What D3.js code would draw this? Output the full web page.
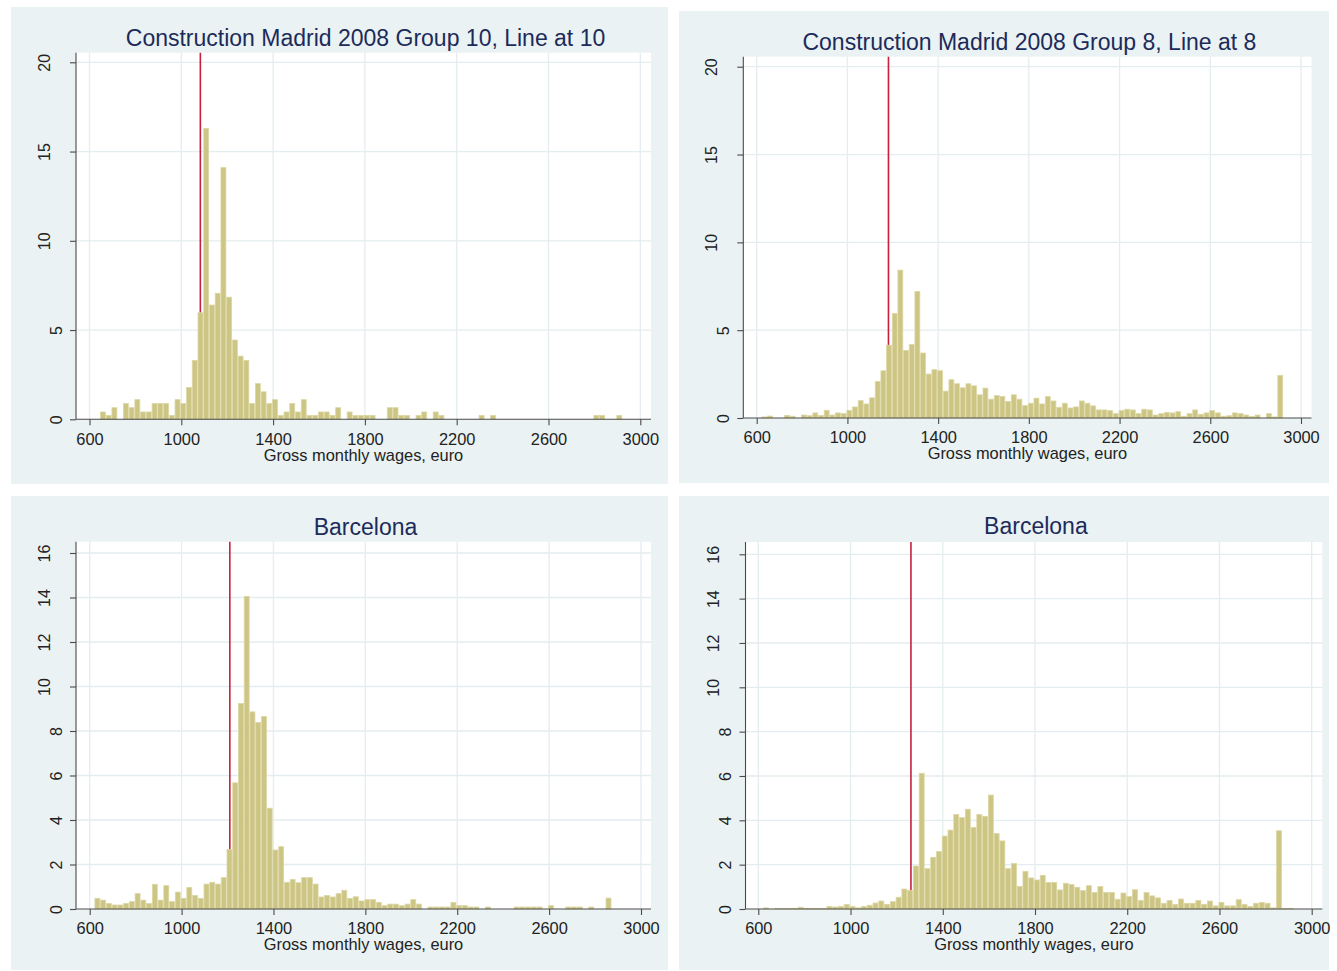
<!DOCTYPE html>
<html>
<head>
<meta charset="utf-8">
<script src="https://cdn.jsdelivr.net/npm/d3@7"></script>
<style>
  html, body { margin: 0; padding: 0; background: #ffffff; }
  svg { display: block; }
</style>
</head>
<body>
<div id="chart"></div>
<script>
// ---------------- DATA ----------------
const titles = [
  "Construction Madrid 2008 Group 10, Line at 10",
  "Construction Madrid 2008 Group 8, Line at 8",
  "Barcelona",
  "Barcelona"
];
const xAxisTitle = "Gross monthly wages, euro";
const xTicks = [600, 1000, 1400, 1800, 2200, 2600, 3000];
const yTicksTop = [0, 5, 10, 15, 20];
const yTicksBottom = [0, 2, 4, 6, 8, 10, 12, 14, 16];
const binStart = 621;   // euro, left edge of first bin
const binWidth = 25;    // euro
const lineAt = [1083, 1181, 1210, 1262]; // euro, red reference lines

// percent per bin
const madridGroup10 = [0, .41, .22, .65, 0, .88, .65, 1.1, .41, .41, .88, .88, .88, .22, 1.1, .88, 1.78, 3.3, 5.97, 16.3,
  6.4, 7.06, 14.1, 6.84, 4.44, 3.54, 3.3, .88, 2.0, 1.54, .88, 1.1, .22, .41, .88, .41, 1.1, .22, .22, .41,
  .41, .22, .65, 0, .41, .22, .22, .22, .22, 0, 0, .65, .65, .22, .22, 0, .22, .41, 0, .41,
  .22, 0, 0, 0, 0, 0, 0, .22, 0, .22, 0, 0, 0, 0, 0, 0, 0, 0, 0, 0,
  0, 0, 0, 0, 0, 0, 0, .22, .22, 0, 0, .22];
const madridGroup8 = [.06, .11, 0, 0, .15, .1, 0, .17, .13, .29, .15, .44, .17, .29, .25, .44, .63, .99, .8, 1.15,
  2.08, 2.69, 4.14, 5.95, 8.42, 3.85, 4.18, 7.2, 3.7, 2.5, 2.75, 2.69, 1.53, 2.18, 1.95, 1.72, 1.95, 1.83, 1.32, 1.7,
  1.07, 1.28, 1.22, .94, 1.32, 1.07, .71, .84, 1.13, .8, 1.22, .97, .61, .84, .57, .63, .97, .84, .69, .46,
  .46, .42, .25, .42, .5, .46, .25, .5, .46, .17, .25, .32, .29, .36, .1, .25, .46, .21, .29, .42,
  .29, .1, .13, .29, .25, .17, .08, .17, 0, .25, .06, 2.42];
const barcelonaGroup10 = [.48, .4, .25, .18, .18, .25, .33, .69, .4, .25, 1.11, .4, 1.05, .33, .76, .48, .97, .61, .48, 1.12,
  1.2, 1.12, 1.41, 2.68, 5.67, 9.24, 14.05, 8.86, 8.38, 8.65, 4.53, 2.65, 2.8, 1.2, 1.33, 1.18, 1.41, 1.41, 1.12, .54,
  .61, .54, .69, .84, .48, .55, .36, .42, .42, .3, .15, .22, .22, .15, .22, .42, .22, 0, .09, .09,
  .09, .09, .3, .15, .15, .09, .09, 0, .09, 0, 0, 0, 0, .09, .09, .09, .09, .09, 0, .15,
  0, 0, .09, .09, .09, 0, .09, 0, 0, .49];
const barcelonaGroup8 = [.05, 0, .03, .03, .03, .03, .08, .03, .03, .03, .03, .12, .09, .12, .21, .12, .05, .12, .17, .27,
  .36, .21, .33, .53, .9, .84, 1.94, 6.12, 1.82, 2.33, 2.59, 3.29, 3.56, 4.26, 4.12, 4.5, 3.68, 4.26, 4.18, 5.14,
  3.41, 3.07, 1.82, 2.05, 1.02, 1.7, 1.4, 1.31, 1.52, 1.2, 1.2, .86, 1.16, 1.11, .98, .83, 1.05, .75, 1.01, .75,
  .75, .44, .72, .56, .87, .38, .74, .59, .5, .26, .38, .21, .45, .26, .26, .39, .21, .36, .14, .3,
  .14, .14, .42, .21, .12, .26, .3, .26, .05, 3.53, .03, .03];

const seriesList = [madridGroup10, madridGroup8, barcelonaGroup10, barcelonaGroup8];
const yTickSets = [yTicksTop, yTicksTop, yTicksBottom, yTicksBottom];

// ---------------- LAYOUT ----------------
const W = 1337, H = 971;
const layouts = [
  { bg: [11, 7, 657, 477],  plot: [76, 651, 52.7, 419.3], xr: [89.5, 640.3], yTopPx: 62.3, titleY: 45.5 },
  { bg: [679, 11, 650, 472], plot: [743.3, 1311.5, 56.7, 418], xr: [756.7, 1301], yTopPx: 66.7, titleY: 49.5 },
  { bg: [11, 496, 657, 474], plot: [76, 651, 541.7, 909], xr: [89.7, 641], yTopPx: 553, titleY: 535 },
  { bg: [679, 496, 650, 474], plot: [745.5, 1322.3, 542, 909], xr: [758.3, 1311.7], yTopPx: 554.3, titleY: 534 }
];

const COLORS = {
  panelBg: "#eaf2f3",
  grid: "#e4edef",
  axis: "#4a4a4a",
  barFill: "#cdc584",
  barStroke: "#dcd7a4",
  refLine: "#c8203f",
  title: "#1c2b5a",
  text: "#222222"
};
const FONT = "'Liberation Sans', Arial, Helvetica, sans-serif";

const svg = d3.select("#chart").append("svg")
  .attr("width", W).attr("height", H)
  .attr("viewBox", `0 0 ${W} ${H}`);

svg.append("rect").attr("width", W).attr("height", H).attr("fill", "#ffffff");

layouts.forEach((L, i) => {
  const data = seriesList[i];
  const yTicks = yTickSets[i];
  const yMax = yTicks[yTicks.length - 1];
  const [pl, pr, pt, pb] = L.plot;

  const x = d3.scaleLinear().domain([xTicks[0], xTicks[xTicks.length - 1]]).range(L.xr);
  const y = d3.scaleLinear().domain([0, yMax]).range([pb, L.yTopPx]);

  const g = svg.append("g");

  // panel background
  g.append("rect")
    .attr("x", L.bg[0]).attr("y", L.bg[1]).attr("width", L.bg[2]).attr("height", L.bg[3])
    .attr("fill", COLORS.panelBg);

  // plot area
  g.append("rect")
    .attr("x", pl).attr("y", pt).attr("width", pr - pl).attr("height", pb - pt)
    .attr("fill", "#ffffff");

  // gridlines
  g.append("g").selectAll("line").data(xTicks).join("line")
    .attr("x1", d => x(d)).attr("x2", d => x(d))
    .attr("y1", pt).attr("y2", pb)
    .attr("stroke", COLORS.grid).attr("stroke-width", 1.3);
  g.append("g").selectAll("line").data(yTicks.filter(d => d > 0)).join("line")
    .attr("x1", pl).attr("x2", pr)
    .attr("y1", d => y(d)).attr("y2", d => y(d))
    .attr("stroke", COLORS.grid).attr("stroke-width", 1.3);

  // reference line (drawn beneath bars)
  g.append("line")
    .attr("x1", x(lineAt[i])).attr("x2", x(lineAt[i]))
    .attr("y1", pt).attr("y2", y(0))
    .attr("stroke", COLORS.refLine).attr("stroke-width", 1.6);

  // bars
  const bins = data.map((v, k) => ({ x0: binStart + k * binWidth, x1: binStart + (k + 1) * binWidth, v }))
    .filter(d => d.v > 0);
  g.append("g").selectAll("rect").data(bins).join("rect")
    .attr("x", d => x(d.x0) + 0.4)
    .attr("width", d => Math.max(0.5, x(d.x1) - x(d.x0) - 0.8))
    .attr("y", d => y(d.v))
    .attr("height", d => y(0) - y(d.v))
    .attr("fill", COLORS.barFill)
    .attr("stroke", COLORS.barStroke)
    .attr("stroke-width", 0.8);

  // x axis
  const xAxis = d3.axisBottom(x).tickValues(xTicks).tickSize(6).tickPadding(5).tickFormat(d3.format("d"));
  const xg = g.append("g").attr("transform", `translate(0,${pb})`).call(xAxis);
  xg.select(".domain").remove();
  xg.append("line").attr("x1", pl).attr("x2", pr).attr("y1", 0).attr("y2", 0)
    .attr("stroke", COLORS.axis).attr("stroke-width", 1.1);
  xg.selectAll(".tick line").attr("stroke", COLORS.axis).attr("stroke-width", 1.1);
  xg.selectAll(".tick text").remove();
  xg.selectAll(".tick").append("text")
    .attr("y", 25.3).attr("text-anchor", "middle")
    .attr("font-family", FONT).attr("font-size", 16.4).attr("fill", COLORS.text)
    .text(d => d3.format("d")(d));

  // y axis
  const yAxis = d3.axisLeft(y).tickValues(yTicks).tickSize(6).tickFormat("");
  const yg = g.append("g").attr("transform", `translate(${pl},0)`).call(yAxis);
  yg.select(".domain").remove();
  yg.append("line").attr("x1", 0).attr("x2", 0).attr("y1", pt).attr("y2", pb)
    .attr("stroke", COLORS.axis).attr("stroke-width", 1.1);
  yg.selectAll(".tick line").attr("stroke", COLORS.axis).attr("stroke-width", 1.1);
  yg.selectAll(".tick").append("text")
    .attr("transform", d => {
      const s = String(d);
      const cx = s.length > 1 ? -32 : -20;
      return `translate(${cx + 5.8},0) rotate(-90)`;
    })
    .attr("text-anchor", "middle")
    .attr("font-family", FONT).attr("font-size", 16).attr("fill", COLORS.text)
    .text(d => String(d));

  // axis title
  g.append("text")
    .attr("x", (pl + pr) / 2).attr("y", pb + 41.3)
    .attr("text-anchor", "middle")
    .attr("font-family", FONT).attr("font-size", 16.4).attr("fill", COLORS.text)
    .text(xAxisTitle);

  // panel title
  g.append("text")
    .attr("x", (pl + pr) / 2 + 2).attr("y", L.titleY)
    .attr("text-anchor", "middle")
    .attr("font-family", FONT).attr("font-size", 23).attr("fill", COLORS.title)
    .text(titles[i]);
});
</script>
</body>
</html>
